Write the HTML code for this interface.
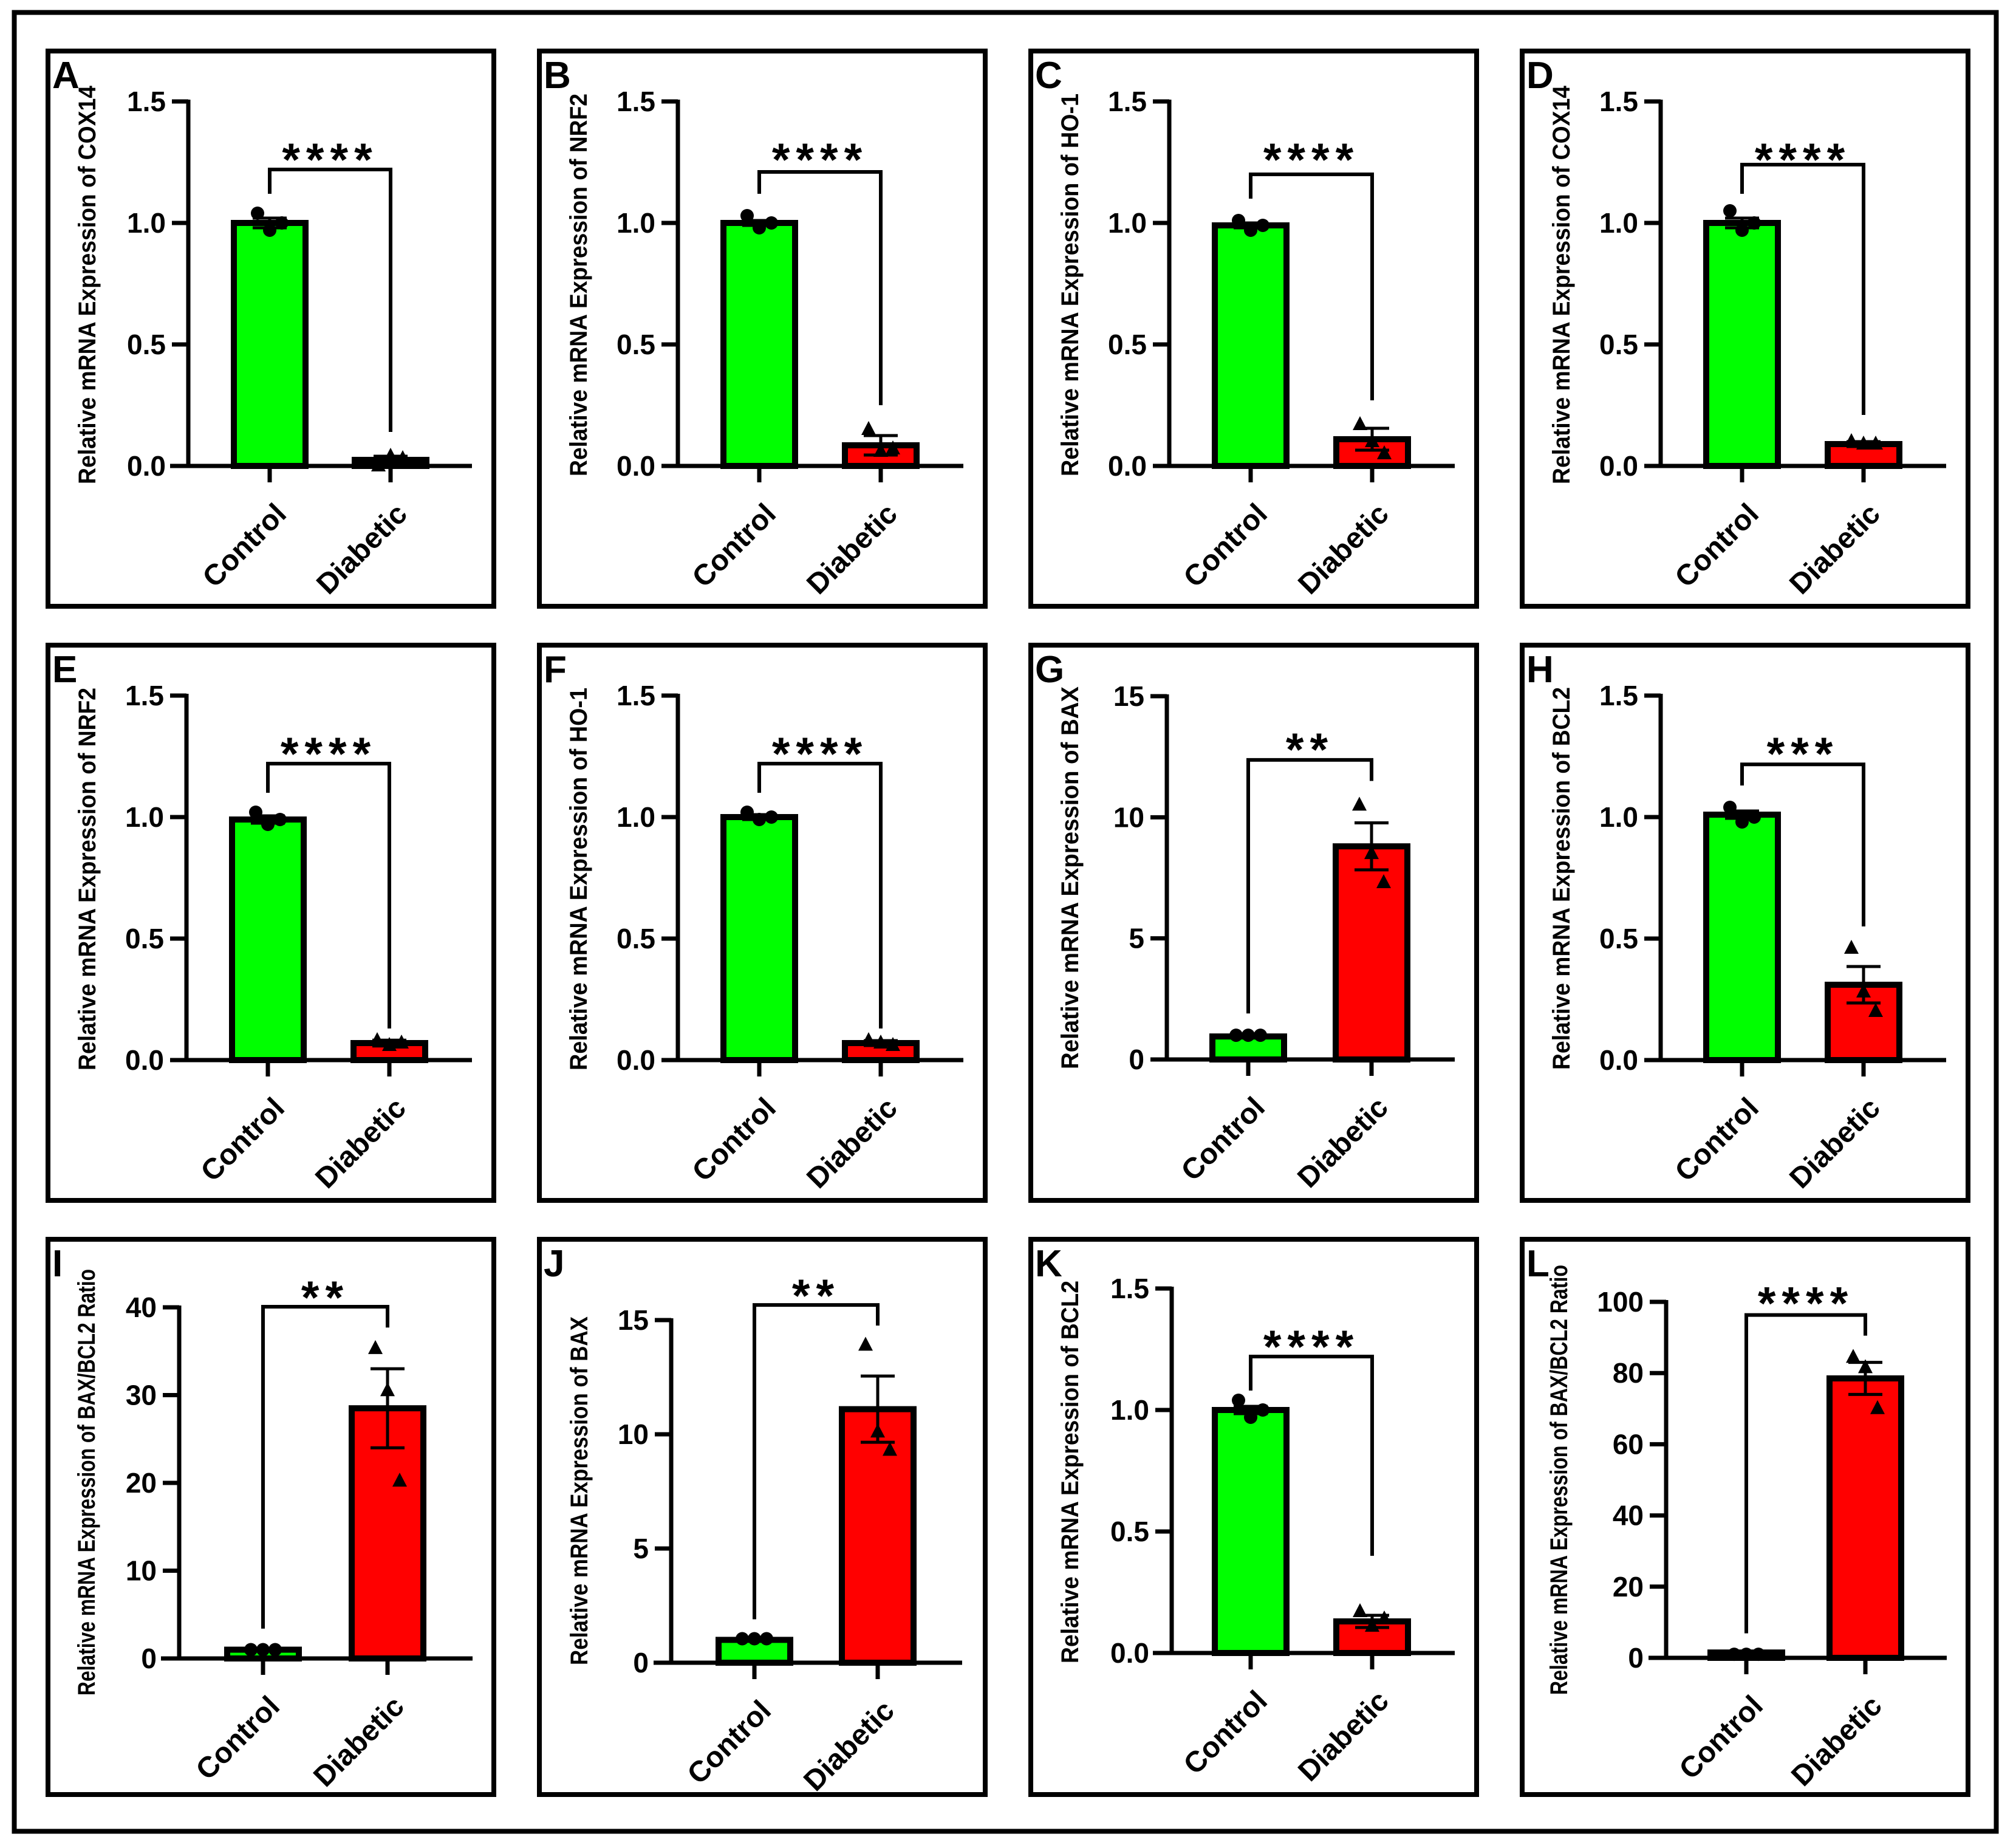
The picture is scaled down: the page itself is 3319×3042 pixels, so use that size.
<!DOCTYPE html>
<html><head><meta charset="utf-8"><style>
html,body{margin:0;padding:0;background:#fff;}
svg{display:block;}
text{font-family:"Liberation Sans",Arial,sans-serif;}
</style></head><body>
<svg id="fig" xmlns="http://www.w3.org/2000/svg" width="3319" height="3042" viewBox="0 0 3319 3042">
<rect x="0" y="0" width="3319" height="3042" fill="#fff"/>
<rect x="23.5" y="20.5" width="3263" height="2994" fill="none" stroke="#000" stroke-width="8"/>
</svg>
<script>
// ---- chart data ----
const panelLetters = ["A","B","C","D","E","F","G","H","I","J","K","L"];
const yTitles = ["Relative mRNA Expression of COX14","Relative mRNA Expression of NRF2","Relative mRNA Expression of HO-1","Relative mRNA Expression of COX14","Relative mRNA Expression of NRF2","Relative mRNA Expression of HO-1","Relative mRNA Expression of BAX","Relative mRNA Expression of BCL2","Relative mRNA Expression of BAX/BCL2 Ratio","Relative mRNA Expression of BAX","Relative mRNA Expression of BCL2","Relative mRNA Expression of BAX/BCL2 Ratio"];
const categories = ["Control","Diabetic"];
const yMaxes = [1.5,1.5,1.5,1.5,1.5,1.5,15,1.5,40,15,1.5,100];
const yTickSteps = [0.5,0.5,0.5,0.5,0.5,0.5,5,0.5,10,5,0.5,20];
const yTickDecimals = [1,1,1,1,1,1,0,1,0,0,1,0];
const controlMeans = [1.0,1.0,0.99,1.0,0.99,1.0,0.95,1.01,1.0,1.0,1.0,1.5];
const controlSems = [0.02,0.01,0.01,0.02,0.015,0.01,0.02,0.015,0.05,0.02,0.015,0.3];
const controlPoints = [[1.04,0.97,1.0],[1.03,0.98,1.0],[1.01,0.97,0.99],[1.05,0.97,1.0],[1.02,0.97,0.99],[1.02,0.99,1.0],[1,1,1],[1.04,0.98,1.0],[1,1,1],[1.05,1.05,1.05],[1.04,0.97,1.0],[1,1,1]];
const diabeticMeans = [0.025,0.085,0.11,0.09,0.07,0.07,8.8,0.31,28.5,11.1,0.13,78.5];
const diabeticSems = [0.015,0.04,0.045,0.01,0.012,0.01,0.97,0.075,4.5,1.45,0.025,4.5];
const diabeticPoints = [[0.0,0.04,0.03],[0.15,0.06,0.07],[0.17,0.1,0.05],[0.1,0.09,0.09],[0.08,0.06,0.07],[0.08,0.07,0.06],[10.5,8.5,7.3],[0.46,0.28,0.2],[35.3,30.5,20.2],[13.9,10.1,9.3],[0.17,0.11,0.14],[84.4,81.5,70]];
const sigLabels = ["****","****","****","****","****","****","**","***","**","**","****","****"];
const bracketTops = [1.22,1.21,1.2,1.24,1.22,1.22,12.37,1.217,40.07,15.66,1.22,96.3];
const bracketLeftEnds = [1.12,1.12,1.1,1.12,1.1,1.1,1.9,1.13,3.4,1.9,1.08,6.9];
const bracketRightEnds = [0.14,0.25,0.27,0.21,0.13,0.13,11.5,0.55,37.7,14.76,0.40,90.5];
const starLevels = [1.31,1.31,1.31,1.31,1.31,1.31,13.3,1.31,42.5,16.6,1.31,103];

// ---- layout (styling, not data) ----
const NS = "http://www.w3.org/2000/svg";
const svg = document.getElementById('fig');
const colX = [75,884,1693,2502], rowY = [80,1058,2036];
const PW = 742, PH = 922;
const std = {ax:232, top:87, zero:687, c1:366, c2:566, xa0:205, xa1:702, tc:78, tl:630};
const geo = [
 Object.assign({},std,{ax:235,tl:656,c1:369,c2:568}), std, std, Object.assign({},std,{tl:656}),
 std, std, Object.assign({},std,{ax:228,top:88,zero:686,c1:362,c2:565}), std,
 {ax:220, top:116, zero:694, c1:358, c2:563, xa0:190, xa1:703, tc:77, tl:702},
 {ax:221, top:137, zero:701, c1:358, c2:561, xa0:192, xa1:700, tc:79, tl:574},
 Object.assign({},std,{ax:236,top:85,zero:685}),
 {ax:241, top:107, zero:693, c1:373, c2:569, xa0:212, xa1:703, tc:74, tl:708}
];
const titleCenters = [389,389,389,389,389,389,387,388,404,418,387,400];

function mk(tag, attrs, parent){
  const e = document.createElementNS(NS, tag);
  for (const k in attrs) e.setAttribute(k, attrs[k]);
  (parent||svg).appendChild(e);
  return e;
}

for (let i = 0; i < 12; i++) {
  const px = colX[i % 4], py = rowY[Math.floor(i / 4)], g = geo[i];
  const grp = mk('g', {});
  
  
  const ymax = yMaxes[i];
  const Y = v => py + g.zero - v / ymax * (g.zero - g.top);
  const X = k => px + (k === 0 ? g.c1 : g.c2);

  const frame = mk('rect', {x:px+4, y:py+4, width:PW-8, height:PH-8, fill:'#fff', stroke:'#000', 'stroke-width':8}, grp);
  
  

  const lab = mk('text', {x:px+11, y:py+65, 'font-size':62, 'font-weight':'bold', fill:'#000'}, grp);
  lab.textContent = panelLetters[i];
  
  

  const tx = px + g.tc + 4, ty = py + titleCenters[i];
  const title = mk('text', {x:tx, y:ty, 'font-size':40, 'font-weight':'bold', 'text-anchor':'middle', transform:`rotate(-90 ${tx} ${ty})`, textLength:g.tl, lengthAdjust:'spacingAndGlyphs', fill:'#000'}, grp);
  title.textContent = yTitles[i];
  
  

  const means = [controlMeans[i], diabeticMeans[i]];
  const sems = [controlSems[i], diabeticSems[i]];
  const pts = [controlPoints[i], diabeticPoints[i]];
  const fills = ['#00ff00', '#ff0000'];
  const bw = 118;
  for (let k = 0; k < 2; k++) {
    const top = Y(means[k]), bottom = Y(0);
    const bar = mk('rect', {x:X(k)-bw/2, y:top, width:bw, height:Math.max(0, bottom-top), fill:fills[k], stroke:'#000', 'stroke-width':10}, grp);
    
    
  }
  const yaxis = mk('line', {x1:px+g.ax, y1:Y(ymax)-3, x2:px+g.ax, y2:Y(0)+3, stroke:'#000', 'stroke-width':7}, grp);
  
  
  for (let v = 0; v <= ymax + 1e-9; v += yTickSteps[i]) {
    const tk = mk('line', {x1:px+g.ax-27, y1:Y(v), x2:px+g.ax, y2:Y(v), stroke:'#000', 'stroke-width':7}, grp);
    
    
    const tl = mk('text', {x:px+g.ax-37, y:Y(v)+16, 'font-size':46, 'font-weight':'bold', 'text-anchor':'end', fill:'#000'}, grp);
    tl.textContent = v.toFixed(yTickDecimals[i]);
    
    
  }
  const xaxis = mk('line', {x1:px+g.xa0, y1:Y(0), x2:px+g.xa1, y2:Y(0), stroke:'#000', 'stroke-width':7}, grp);
  
  
  for (let k = 0; k < 2; k++) {
    const tk = mk('line', {x1:X(k), y1:Y(0), x2:X(k), y2:Y(0)+27, stroke:'#000', 'stroke-width':7}, grp);
    
    
    const lx = X(k) + 30, ly = Y(0) + 82;
    const xl = mk('text', {x:lx, y:ly, 'font-size':48, 'font-weight':'bold', 'text-anchor':'end', transform:`rotate(-45 ${lx} ${ly})`, fill:'#000'}, grp);
    xl.textContent = categories[k];
    
    
  }
  for (let k = 0; k < 2; k++) {
    const hi = Y(means[k] + sems[k]), lo = Y(Math.max(0, means[k] - sems[k]));
    const eb = mk('path', {d:`M${X(k)},${lo} V${hi} M${X(k)-28},${hi} H${X(k)+28} M${X(k)-28},${lo} H${X(k)+28}`, stroke:'#000', 'stroke-width':5, fill:'none'}, grp);
    
    
  }
  const jit = [-20, 0, 20];
  for (let k = 0; k < 2; k++) {
    pts[k].forEach((v, j) => {
      const cx = X(k) + jit[j], cy = Y(v);
      let m;
      if (k === 0) {
        m = mk('circle', {cx:cx, cy:cy, r:11, fill:'#000'}, grp);
      } else {
        m = mk('path', {d:`M${cx},${cy-14} L${cx+12},${cy+9} L${cx-12},${cy+9} Z`, fill:'#000'}, grp);
      }
      
      
    });
  }
  const br = mk('path', {d:`M${X(0)},${Y(bracketLeftEnds[i])} V${Y(bracketTops[i])} H${X(1)} V${Y(bracketRightEnds[i])}`, stroke:'#000', 'stroke-width':6, fill:'none'}, grp);
  
  
  const st = mk('text', {x:(X(0)+X(1))/2, y:Y(starLevels[i])+46, 'font-size':76, 'font-weight':'bold', 'text-anchor':'middle', 'letter-spacing':10, fill:'#000'}, grp);
  st.textContent = sigLabels[i];
  
  
}
</script>
</body></html>
